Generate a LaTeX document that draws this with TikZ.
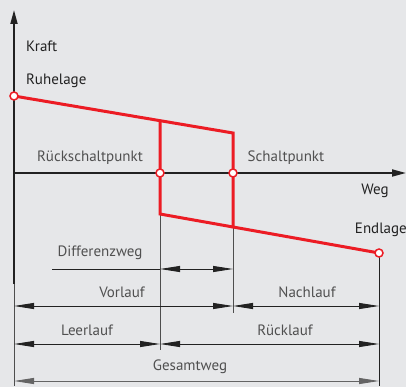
\documentclass[tikz,border=0pt]{standalone}
\usepackage{fontspec}
\setmainfont{PT Sans}
\usetikzlibrary{arrows.meta}
\definecolor{bg}{HTML}{E6E7E9}
\definecolor{rd}{HTML}{EC1C24}
\definecolor{lbl}{HTML}{505050}
\definecolor{ax}{HTML}{222222}
\tikzset{
  redline/.style={rd, line width=3pt, line join=miter},
  axisline/.style={ax, line width=1.8pt},
  dimline/.style={ax, line width=0.9pt},
  extline/.style={ax!80, line width=0.8pt},
  dimarrow/.style={dimline, {Triangle[length=20pt,width=6pt]}-{Triangle[length=20pt,width=6pt]}},
  pt/.style={circle, draw=rd, fill=white, line width=1.5pt, inner sep=0pt, minimum size=8pt},
  dark/.style={text=ax, font=\fontsize{15}{17}\selectfont, inner sep=0pt},
  grey/.style={text=lbl, font=\fontsize{15}{17}\selectfont, inner sep=0pt}
}
\begin{document}
\begin{tikzpicture}[x=1pt,y=-1pt]
\fill[bg] (0,0) rectangle (406,387);
\useasboundingbox (0,0) rectangle (406,387);
% coordinates
\coordinate (O) at (14,173);
\coordinate (ytop) at (14,10);
\coordinate (xend) at (406,173);
\coordinate (ybot) at (14,386);
\coordinate (ymid) at (14,284);
\coordinate (A) at (14,96);
\coordinate (B) at (160,121);
\coordinate (C) at (233,133);
\coordinate (D) at (233,228);
\coordinate (E) at (160,214);
\coordinate (F) at (379,253);
\coordinate (P1) at (160,173);
\coordinate (P2) at (233,173);
% axes
\draw[axisline, -{Triangle[length=14pt,width=7pt]}] (ymid) -- (ytop);
\draw[extline] (ymid) -- (ybot);
\draw[axisline, -{Triangle[length=14pt,width=7pt]}] (O) -- (xend);
% extension lines
\coordinate (E1) at (160,350);
\coordinate (D1) at (233,313);
\coordinate (F1) at (379,386);
\draw[extline] (E) -- (E1);
\draw[extline] (D) -- (D1);
\draw[ax, line width=1pt] (F) -- (F1);
% red curve
\draw[redline] (A) -- (C) -- (D);
\draw[redline] (B) -- (E) -- (F);
\node[pt] (nA) at (A) {};
\node[pt] (nP1) at (P1) {};
\node[pt] (nP2) at (P2) {};
\node[pt] (nF) at (F) {};
% labels
\node[dark, anchor=west] (kraft) at (26,46) {Kraft};
\node[dark, anchor=west] (ruhe) at (26,81) {Ruhelage};
\node[grey] (rsp) at (90,158) {Rückschaltpunkt};
\node[grey] (sp) at (286,158) {Schaltpunkt};
\node[dark] (weg) at (375,191) {Weg};
\node[dark, anchor=east] (end) at (407,230) {Endlage};
% dimensions
\coordinate (d0) at (52,269);
\coordinate (d1) at (160,269);
\coordinate (d2) at (233,269);
\draw[dimline] (d0) -- (d1);
\draw[dimarrow] (d1) -- (d2);
\node[grey] (dw) at (100,253) {Differenzweg};
\coordinate (v0) at (14,306);
\coordinate (v1) at (233,306);
\coordinate (v2) at (379,306);
\draw[dimarrow] (v0) -- (v1);
\draw[dimarrow] (v1) -- (v2);
\node[grey] (vl) at (122,292) {Vorlauf};
\node[grey] (nl) at (307,292) {Nachlauf};
\coordinate (l0) at (14,344);
\coordinate (l1) at (160,344);
\coordinate (l2) at (379,344);
\draw[dimarrow] (l0) -- (l1);
\draw[dimarrow] (l1) -- (l2);
\node[grey] (ll) at (87,330) {Leerlauf};
\node[grey] (rl) at (285,330) {Rücklauf};
\coordinate (g0) at (14,381);
\coordinate (g1) at (379,381);
\draw[dimarrow, ax!70] (g0) -- (g1);
\node[grey] (gw) at (190,367) {Gesamtweg};
\end{tikzpicture}
\end{document}
